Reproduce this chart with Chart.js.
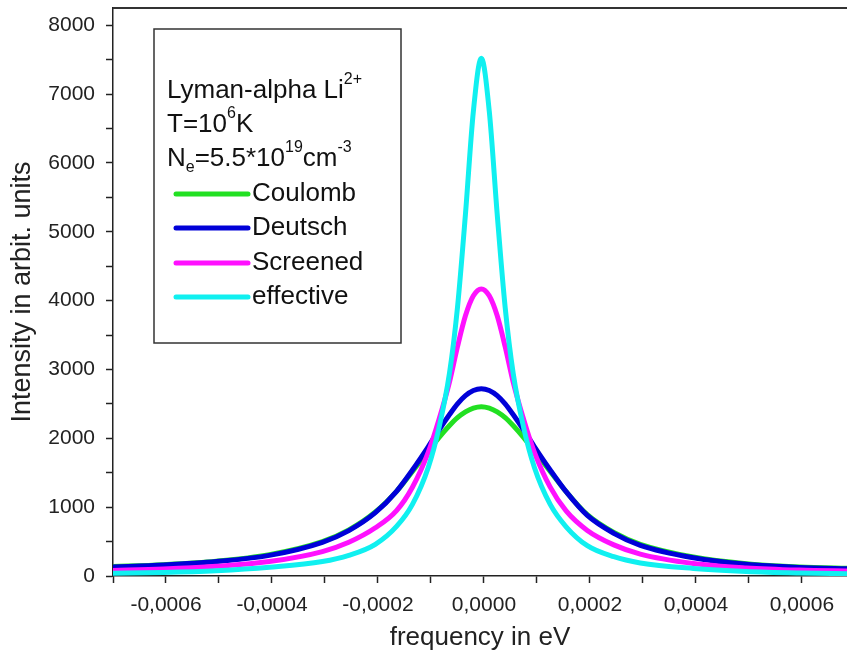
<!DOCTYPE html>
<html>
<head>
<meta charset="utf-8">
<script src="https://cdn.jsdelivr.net/npm/chart.js@4"></script>
<style>
  html, body { margin: 0; padding: 0; background: #fff; overflow: hidden; }
</style>
</head>
<body>
<canvas id="spectrumChart" width="847" height="663"></canvas>
<script>
// frequency points (eV)
const freq = [-0.000705, -0.000605, -0.000505, -0.000405, -0.000305, -0.000255, -0.000205, -0.000165,
  -0.000135, -0.000105, -0.000085, -0.000065, -0.00005, -0.000035, -0.00002, -0.000005,
  0.00001, 0.000025, 0.00004, 0.000055, 0.000075, 0.000095, 0.000125, 0.000155,
  0.000195, 0.000245, 0.000295, 0.000395, 0.000495, 0.000595, 0.000695];

const coulomb = [135, 165, 215, 310, 500, 670, 930, 1230, 1520, 1815, 2010, 2185, 2300, 2385, 2440, 2460,
  2440, 2385, 2300, 2185, 2010, 1815, 1520, 1225, 890, 632, 460, 275, 178, 130, 110];
const deutsch = [130, 160, 210, 300, 490, 660, 920, 1230, 1540, 1880, 2120, 2345, 2500, 2620, 2695, 2720,
  2695, 2620, 2500, 2345, 2120, 1880, 1540, 1225, 880, 620, 445, 265, 170, 125, 105];
const screened = [80, 100, 140, 210, 355, 490, 700, 950, 1290, 1800, 2270, 2820, 3330, 3780, 4070, 4170,
  4070, 3780, 3330, 2820, 2270, 1800, 1290, 945, 662, 452, 318, 182, 118, 86, 70];
const effective = [40, 52, 78, 128, 210, 300, 460, 720, 1040, 1580, 2150, 2950, 3900, 5250, 6750, 7520,
  6750, 5250, 3900, 2950, 2150, 1580, 1040, 715, 440, 280, 190, 110, 66, 44, 32];

const yTickValues = [0, 500, 1000, 1500, 2000, 2500, 3000, 3500, 4000, 4500, 5000, 5500, 6000, 6500, 7000, 7500, 8000];

const seriesNames = ['Coulomb', 'Deutsch', 'Screened', 'effective'];
const seriesColors = ['#22e022', '#0000d8', '#ff10ff', '#10f0f0'];

const FONT = '"Liberation Sans", Arial, sans-serif';

function pts(vals) {
  return freq.map((f, i) => ({x: f, y: vals[i]}));
}

// draw text with sup/sub parts
function drawRich(ctx, parts, x, y) {
  parts.forEach(p => {
    let size = 26, dy = 0;
    if (p.sup) { size = 16; dy = -11; }
    if (p.sub) { size = 16; dy = 9; }
    ctx.font = size + 'px ' + FONT;
    ctx.fillText(p.t, x, y + dy);
    x += ctx.measureText(p.t).width;
  });
}

const legendBox = {
  id: 'legendBox',
  afterDatasetsDraw(chart) {
    const ctx = chart.ctx;
    ctx.save();
    ctx.fillStyle = '#fff';
    ctx.fillRect(154, 29, 247, 314);
    ctx.strokeStyle = '#333';
    ctx.lineWidth = 1.5;
    ctx.strokeRect(154, 29, 247, 314);

    ctx.fillStyle = '#111';
    ctx.textBaseline = 'middle';
    ctx.textAlign = 'left';
    drawRich(ctx, [{t: 'Lyman-alpha Li'}, {t: '2+', sup: true}], 167, 91);
    drawRich(ctx, [{t: 'T=10'}, {t: '6', sup: true}, {t: 'K'}], 167, 125);
    drawRich(ctx, [{t: 'N'}, {t: 'e', sub: true}, {t: '=5.5*10'}, {t: '19', sup: true}, {t: 'cm'}, {t: '-3', sup: true}], 167, 159);

    const rows = [194, 228, 263, 297];
    rows.forEach((y, i) => {
      ctx.strokeStyle = seriesColors[i];
      ctx.lineWidth = 5;
      ctx.lineCap = 'round';
      ctx.beginPath();
      ctx.moveTo(176, y);
      ctx.lineTo(248, y);
      ctx.stroke();
      ctx.font = '26px ' + FONT;
      ctx.fillText(seriesNames[i], 252, y);
    });
    ctx.restore();
  },
  afterDraw(chart) {
    // top frame line
    const {ctx, chartArea} = chart;
    ctx.save();
    ctx.strokeStyle = '#333';
    ctx.lineWidth = 2;
    ctx.beginPath();
    ctx.moveTo(chartArea.left, chartArea.top);
    ctx.lineTo(chartArea.right, chartArea.top);
    ctx.stroke();
    ctx.restore();
  }
};

const allSeries = [coulomb, deutsch, screened, effective];

new Chart(document.getElementById('spectrumChart'), {
  type: 'line',
  data: {
    datasets: allSeries.map((vals, i) => ({
      label: seriesNames[i],
      data: pts(vals),
      borderColor: seriesColors[i],
      borderWidth: 5,
      pointRadius: 0,
      fill: false,
      cubicInterpolationMode: 'monotone',
      order: 3 - i
    }))
  },
  options: {
    responsive: false,
    animation: false,
    layout: { padding: { top: 8, right: 0, left: 0, bottom: 0 } },
    plugins: {
      legend: { display: false },
      tooltip: { enabled: false }
    },
    scales: {
      x: {
        type: 'linear',
        min: -0.0007,
        max: 0.000685,
        afterFit: function(scale) {
          scale.height = 87;
          scale.paddingLeft = 0;
          scale.paddingRight = 0;
        },
        border: { color: '#222', width: 1.5 },
        grid: { drawOnChartArea: false, drawTicks: true, tickLength: 7, tickColor: '#222', tickWidth: 1.5 },
        ticks: {
          stepSize: 0.0001,
          includeBounds: false,
          autoSkip: false,
          maxRotation: 0,
          padding: 10,
          color: '#222',
          font: { family: FONT, size: 21 },
          callback: function(value) {
            const k = Math.round(value * 10000);
            if (k % 2 !== 0) return '';
            return (k / 10000).toFixed(4).replace('.', ',');
          }
        },
        title: {
          display: true,
          text: 'frequency in eV',
          color: '#222',
          font: { family: FONT, size: 26 },
          padding: { top: 0, bottom: 10 }
        }
      },
      y: {
        min: 0,
        max: 8250,
        afterBuildTicks: function(scale) {
          scale.ticks = yTickValues.map(v => ({value: v}));
        },
        afterFit: function(scale) {
          scale.width = 113;
          scale.paddingTop = 0;
          scale.paddingBottom = 0;
        },
        border: { color: '#222', width: 1.5 },
        grid: { drawOnChartArea: false, drawTicks: true, tickLength: 7, tickColor: '#222', tickWidth: 1.5 },
        ticks: {
          autoSkip: false,
          padding: 11,
          color: '#222',
          font: { family: FONT, size: 21 },
          callback: function(value) { return value % 1000 === 0 ? String(value) : ''; }
        },
        title: {
          display: true,
          text: 'Intensity in arbit. units',
          color: '#222',
          font: { family: FONT, size: 27 },
          padding: { top: 6, bottom: 0 }
        }
      }
    }
  },
  plugins: [legendBox]
});
</script>
</body>
</html>
